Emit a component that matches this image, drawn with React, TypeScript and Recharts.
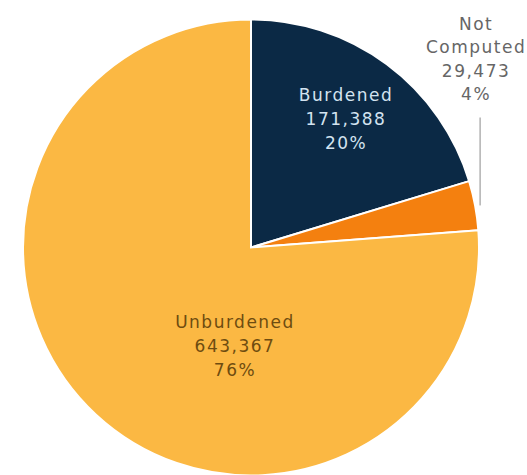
import { Cell, Pie, PieChart } from "recharts";

const NAMES = ["Burdened", "Not Computed", "Unburdened"];
const VALUES = [171388, 29473, 643367];
const PERCENTS = ["20%", "4%", "76%"];
const COLORS = ["#0b2945", "#f4800f", "#fbb843"];

const data = NAMES.map((name, i) => ({ name, value: VALUES[i], pct: PERCENTS[i] }));

const FONT = "'DejaVu Sans', sans-serif";
const FS = 17;
const LS = 1.5;
const RAD = Math.PI / 180;

function Lines({ x, y, lines, fill, gap }: { x: number; y: number; lines: string[]; fill: string; gap: number }) {
  return (
    <text x={x} y={y} textAnchor="middle" fill={fill} fontSize={FS} letterSpacing={LS} fontFamily={FONT}>
      {lines.map((l, i) => (
        <tspan key={i} x={x} dy={i === 0 ? 0 : gap}>{l}</tspan>
      ))}
    </text>
  );
}

function renderLabel(props: any) {
  const { cx, cy, outerRadius, midAngle, index } = props;
  const d = data[index];
  const lines = d.name === "Not Computed" ? ["Not", "Computed"] : [d.name];
  lines.push(d.value.toLocaleString("en-US"), d.pct);

  if (index === 0) {
    const r = outerRadius * 0.7;
    const x = cx + r * Math.cos(-midAngle * RAD);
    const y = cy + r * Math.sin(-midAngle * RAD);
    return <Lines x={x} y={y - 18} lines={lines} fill="#d3e3f0" gap={24} />;
  }
  if (index === 2) {
    return <Lines x={cx - 16} y={cy + 80} lines={lines} fill="#6e4c10" gap={24} />;
  }
  // Not Computed, outside with a vertical leader line
  const mx = cx + outerRadius * Math.cos(-midAngle * RAD);
  const my = cy + outerRadius * Math.sin(-midAngle * RAD);
  const lx = mx + 5;
  return (
    <g>
      <line x1={lx} y1={my} x2={lx} y2={cy - 130} stroke="#8a8a8a" strokeWidth={1} />
      <Lines x={lx - 4} y={cy - 218} lines={lines} fill="#666666" gap={23.5} />
    </g>
  );
}

export default function App() {
  return (
    <div style={{ position: "absolute", left: 0, top: 0 }}>
      <PieChart width={527} height={475}>
        <Pie
          data={data}
          dataKey="value"
          nameKey="name"
          cx={246}
          cy={242.5}
          outerRadius={228}
          startAngle={90}
          endAngle={-270}
          stroke="#ffffff"
          strokeWidth={2}
          label={renderLabel}
          labelLine={false}
          isAnimationActive={false}
        >
          {data.map((d, i) => (
            <Cell key={d.name} fill={COLORS[i]} />
          ))}
        </Pie>
      </PieChart>
    </div>
  );
}
